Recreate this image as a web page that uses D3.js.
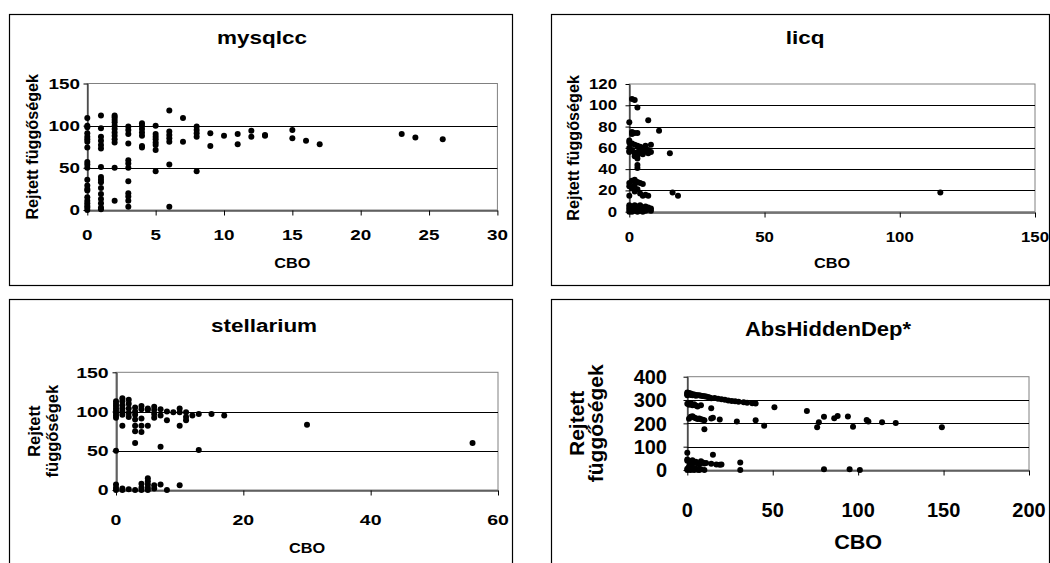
<!DOCTYPE html>
<html><head><meta charset="utf-8">
<script src="https://cdn.jsdelivr.net/npm/d3@7"></script>
<style>
body{margin:0;background:#fff}
text{font-family:"Liberation Sans",Arial,sans-serif;font-weight:bold;fill:#000}
</style>
</head><body>
<svg id="chart" width="1050" height="563"></svg>
<script>
// ---------- DATA ----------
const xAxisTitle = "CBO";
const yAxisTitle = ["Rejtett", "függőségek"];

const mysqlccXTicks = [0, 5, 10, 15, 20, 25, 30];
const mysqlccYTicks = [0, 50, 100, 150];
const mysqlccPoints = [
  [0,109],[0,100],[0,98],[0,91],[0,87],[0,84],[0,81],[0,74],[0,57],[0,54],[0,50],[0,36],[0,29],[0,25],[0,23],[0,15],[0,11],[0,8],[0,5],[0,3],[0,0],
  [1,112],[1,97],[1,87],[1,82],[1,77],[1,73],[1,51],[1,39],[1,36],[1,33],[1,26],[1,19],[1,13],[1,8],[1,3],[1,1],
  [2,112],[2,110],[2,107],[2,104],[2,100],[2,96],[2,92],[2,88],[2,84],[2,80],[2,50],[2,11],
  [3,99],[3,95],[3,90],[3,79],[3,59],[3,55],[3,50],[3,34],[3,20],[3,16],[3,11],[3,4],
  [4,103],[4,100],[4,96],[4,92],[4,88],[4,76],[4,74],
  [5,100],[5,90],[5,87],[5,84],[5,80],[5,77],[5,71],[5,46],
  [6,118],[6,93],[6,89],[6,85],[6,81],[6,54],[6,4],
  [7,109],[7,81],
  [8,99],[8,95],[8,91],[8,87],[8,46],
  [9,91],[9,76],[10,88],[11,90],[11,78],[12,94],[12,87],[13,88],[13,89],
  [15,95],[15,85],[16,82],[17,78],[23,90],[24,86],[26,84]
];

const licqXTicks = [0, 50, 100, 150];
const licqYTicks = [0, 20, 40, 60, 80, 100, 120];
const licqPoints = [
  [1,106],[2,105],[3,98],[0,84],[7,86],[11,76],[1,75],[2,74],[3,74],[1,73],
  [0,67],[0,65],[1,64],[2,63],[3,62],[4,61],[0,60],[0,57],[0,56],[1,58],[2,55],[2,52],[3,50],[3,53],
  [4,55],[4,58],[5,60],[5,54],[6,57],[6,62],[7,58],[7,55],[8,63],[8,56],[5,57],[3,56],[15,55],
  [3,44],[3,41],[0,27],[0,24],[1,29],[2,30],[2,25],[3,28],[4,27],[5,26],[1,22],[2,19],[3,21],
  [4,17],[5,15],[6,16],[7,15],[0,15],[16,18],[18,15],[115,18],
  [0,0],[0,2],[0,4],[0,6],[1,0],[1,3],[1,5],[2,1],[2,4],[3,0],[3,2],[3,5],[4,1],[4,3],[4,6],
  [5,0],[5,2],[5,4],[6,1],[6,3],[7,2],[7,4],[8,3],[8,1],[6,5],[2,6]
];

const stellariumXTicks = [0, 20, 40, 60];
const stellariumYTicks = [0, 50, 100, 150];
const stellariumPoints = [
  [0,113],[0,110],[0,107],[0,104],[0,101],[0,98],[0,95],[0,92],[0,50],[0,7],[0,3],[0,0],
  [1,117],[1,113],[1,108],[1,104],[1,100],[1,96],[1,82],[1,2],[1,0],
  [2,115],[2,110],[2,104],[2,98],[2,93],[2,1],
  [3,105],[3,100],[3,96],[3,90],[3,82],[3,75],[3,60],[3,0],
  [4,107],[4,103],[4,91],[4,82],[4,74],[4,8],[4,3],[4,0],
  [5,104],[5,102],[5,82],[5,15],[5,11],[5,7],[5,3],[5,0],
  [6,106],[6,102],[6,97],[6,92],[6,6],[6,2],
  [7,103],[7,95],[7,55],[7,7],[8,100],[8,89],[8,0],[9,99],
  [10,104],[10,99],[10,82],[10,6],[11,99],[11,93],[11,89],[12,95],[13,97],[13,51],
  [15,97],[17,95],[30,83],[56,60]
];

const absXTicks = [0, 50, 100, 150, 200];
const absYTicks = [0, 100, 200, 300, 400];
const absPoints = [
  [0,332],[0,328],[0,324],[0,320],[1,330],[1,326],[2,328],[2,322],[3,325],[3,320],[4,324],[5,322],[5,318],
  [6,320],[7,321],[8,318],[9,317],[10,316],[11,315],[12,313],[13,311],[14,308],[16,309],[18,306],[20,303],
  [22,301],[24,298],[26,296],[28,295],[30,293],[33,290],[35,288],[38,286],[40,285],
  [0,284],[1,280],[2,286],[3,278],[4,282],[5,276],[6,272],[8,278],[14,265],[51,269],[70,253],
  [1,220],[2,228],[3,230],[4,225],[5,222],[6,219],[7,221],[8,218],[9,215],[10,213],[10,175],[15,224],[14,221],
  [19,216],[29,208],[40,213],[45,190],[76,183],[77,205],[80,228],[86,222],[88,231],[94,229],[97,185],
  [105,214],[106,208],[114,205],[122,201],[149,183],
  [0,74],[0,45],[0,40],[1,38],[2,35],[3,42],[4,30],[5,35],[6,28],[7,25],[8,38],[9,32],[10,28],[11,30],
  [15,65],[14,27],[17,24],[19,22],[20,24],[31,32],[1,15],[2,20],[3,10],
  [0,0],[0,5],[1,2],[2,0],[3,3],[4,0],[5,5],[6,1],[7,0],[8,3],[10,0],[31,0],[80,3],[95,3],[101,0]
];

// ---------- LAYOUT ----------
const panels = [
  {title:"mysqlcc", pts:mysqlccPoints, xt:mysqlccXTicks, yt:mysqlccYTicks,
   box:[9,14,512,285], l:87.3, r:497.4, t:83.5, b:210,
   titleX:262, titleY:44, titleFs:18, titleSx:1.25,
   tickFs:14.5, tickSx:1.3, xTickY:240, yTickR:80,
   axFs:15.5, axSx:1.05, axY:268, yLabX:[32], yLabFs:16.2, oneLine:true},
  {title:"licq", pts:licqPoints, xt:licqXTicks, yt:licqYTicks,
   box:[551,14,1049,285], l:629.3, r:1035, t:84, b:211.7,
   titleX:805, titleY:44, titleFs:18, titleSx:1.25,
   tickFs:14, tickSx:1.2, xTickY:241.5, yTickR:617,
   axFs:15.5, axSx:1.05, axY:268.3, yLabX:[573.3], yLabFs:16.2, oneLine:true},
  {title:"stellarium", pts:stellariumPoints, xt:stellariumXTicks, yt:stellariumYTicks,
   box:[9,299,512,580], l:116, r:498, t:372.3, b:490,
   titleX:264, titleY:332, titleFs:18, titleSx:1.25,
   tickFs:15, tickSx:1.3, xTickY:525, yTickR:108.7,
   axFs:15.5, axSx:1.05, axY:553.3, yLabX:[34,52.6], yLabFs:16.5, oneLine:false},
  {title:"AbsHiddenDep*", pts:absPoints, xt:absXTicks, yt:absYTicks,
   box:[551,299,1049,580], l:687.3, r:1029, t:376.7, b:470,
   titleX:828, titleY:336, titleFs:20, titleSx:1.1,
   tickFs:20, tickSx:1.0, xTickY:517, yTickR:667,
   axFs:20, axSx:1.08, axY:549.3, yLabX:[576.7,596], yLabFs:21, oneLine:false}
];

const svg = d3.select("#chart");

function stretchedText(g, x, y, str, fs, sx, anchor){
  return g.append("text")
    .attr("transform", `translate(${x},${y}) scale(${sx},1)`)
    .attr("text-anchor", anchor)
    .style("font-size", fs + "px")
    .text(str);
}

panels.forEach(p => {
  const g = svg.append("g");
  const [bx0, by0, bx1, by1] = p.box;
  g.append("rect").attr("x", bx0 + 0.5).attr("y", by0 + 0.5)
    .attr("width", bx1 - bx0).attr("height", by1 - by0)
    .attr("fill", "#fff").attr("stroke", "#000").attr("stroke-width", 1.2);

  const x = d3.scaleLinear().domain([p.xt[0], p.xt[p.xt.length - 1]]).range([p.l, p.r]);
  const y = d3.scaleLinear().domain([p.yt[0], p.yt[p.yt.length - 1]]).range([p.b, p.t]);

  // plot area border
  g.append("rect").attr("x", p.l).attr("y", p.t)
    .attr("width", p.r - p.l).attr("height", p.b - p.t)
    .attr("fill", "none").attr("stroke", "#808080").attr("stroke-width", 1);

  // gridlines
  g.selectAll("line.grid").data(p.yt.slice(1, -1)).join("line")
    .attr("class", "grid")
    .attr("x1", p.l).attr("x2", p.r)
    .attr("y1", d => Math.round(y(d)) + 0.5).attr("y2", d => Math.round(y(d)) + 0.5)
    .attr("stroke", "#000").attr("stroke-width", 1);

  // axes (lines + ticks)
  const xAxis = g.append("g").attr("transform", `translate(0,${Math.round(p.b) + 0.5})`)
    .call(d3.axisBottom(x).tickValues(p.xt).tickSize(5).tickSizeOuter(0).tickFormat(""));
  const yAxis = g.append("g").attr("transform", `translate(${Math.round(p.l) + 0.5},0)`)
    .call(d3.axisLeft(y).tickValues(p.yt).tickSize(4).tickSizeOuter(0).tickFormat(""));
  [xAxis, yAxis].forEach(a => {
    a.select(".domain").attr("stroke", "#000");
    a.selectAll(".tick line").attr("stroke", "#000");
  });

  // tick labels
  p.xt.forEach(v => stretchedText(g, x(v), p.xTickY, d3.format("d")(v), p.tickFs, p.tickSx, "middle"));
  p.yt.forEach(v => stretchedText(g, p.yTickR, y(v) + p.tickFs * 0.36, d3.format("d")(v), p.tickFs, p.tickSx, "end"));

  // points
  g.selectAll("circle").data(p.pts).join("circle")
    .attr("cx", d => x(d[0])).attr("cy", d => y(d[1])).attr("r", 3).attr("fill", "#000");

  // title
  stretchedText(g, p.titleX, p.titleY, p.title, p.titleFs, p.titleSx, "middle");
  // x axis title
  stretchedText(g, (p.l + p.r) / 2, p.axY, xAxisTitle, p.axFs, p.axSx, "middle");
  // y axis title
  const cy = (p.t + p.b) / 2;
  const lines = p.oneLine ? [yAxisTitle.join(" ")] : yAxisTitle;
  lines.forEach((s, i) => {
    g.append("text")
      .attr("transform", `translate(${p.yLabX[i]},${cy}) rotate(-90)`)
      .attr("text-anchor", "middle").attr("dy", "0.35em")
      .style("font-size", p.yLabFs + "px")
      .text(s);
  });
});
</script>
</body></html>
